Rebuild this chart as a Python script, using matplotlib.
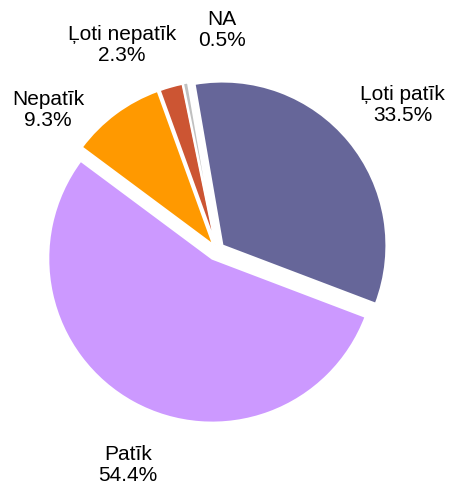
import numpy as np
import matplotlib
matplotlib.use("Agg")
import matplotlib.pyplot as plt

# data
categories = ["Ļoti patīk", "Patīk", "Nepatīk", "Ļoti nepatīk", "NA"]
shares = [33.5, 54.4, 9.3, 2.3, 0.5]
colors = ["#666699", "#CC99FF", "#FF9900", "#CC5533", "#C0C0C0"]
explode = [0.043, 0.06, 0.037, 0.035, 0.037]

# label placement (angle in degrees, distance in radii)
label_angle = [37.3, -111.8, 140.4, 114.6, 88.2]
label_dist = [1.43, 1.417, 1.313, 1.353, 1.322]

plt.rcParams['font.family'] = ['Liberation Sans', 'DejaVu Sans']

W, H = 451, 495
R_PX = 164.0
cx, cy = 217.0, 250.0  # pie centre in pixels from top-left

fig = plt.figure(figsize=(W / 100, H / 100), dpi=100)
ax = fig.add_axes([0, 0, 1, 1])

wedges, _ = ax.pie(shares, colors=colors, explode=explode, startangle=99.8,
                   counterclock=False, radius=1.0, center=(0, 0),
                   wedgeprops=dict(edgecolor="white", linewidth=1.5))

# labels sit around the pie (positions given relative to pixel centre 215,248)
ox, oy = (215.0 - cx) / R_PX, (cy - 248.0) / R_PX
for cat, val, ang, d in zip(categories, shares, label_angle, label_dist):
    t = np.radians(ang)
    ax.text(ox + d * 165 / R_PX * np.cos(t), oy + d * 165 / R_PX * np.sin(t),
            f"{cat}\n{val}%", ha="center", va="center", fontsize=15,
            color="#000000", linespacing=1.15)

ax.set_xlim(-cx / R_PX, (W - cx) / R_PX)
ax.set_ylim(-(H - cy) / R_PX, cy / R_PX)
ax.set_aspect("equal")
ax.axis("off")

fig.savefig("out.png", dpi=100, facecolor="white")
